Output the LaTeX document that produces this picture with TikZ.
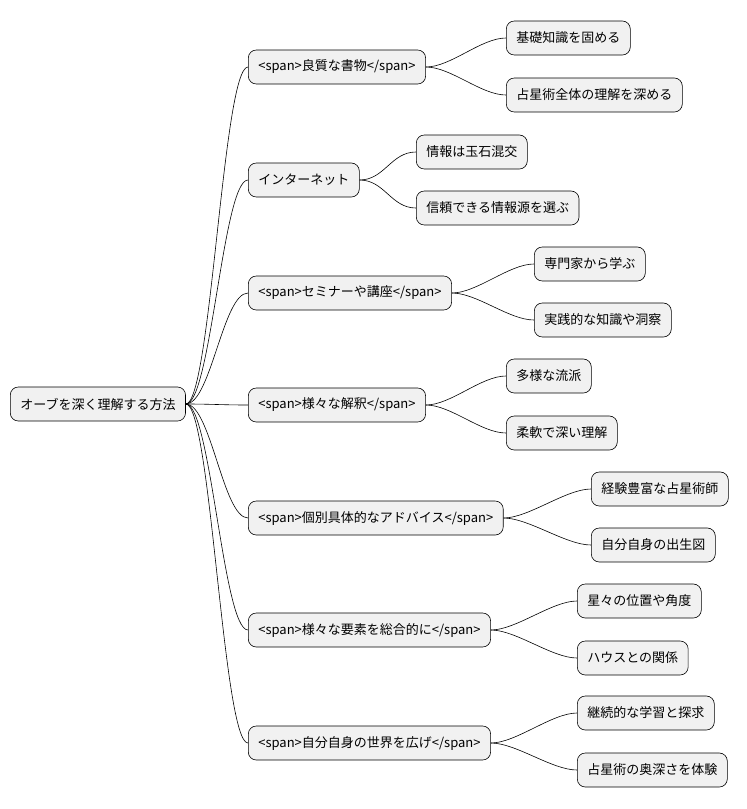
\documentclass[tikz,border=0pt]{standalone}
\usepackage{fontspec}
\setmainfont{Noto Sans CJK JP}
\begin{document}
\begin{tikzpicture}[x=1pt,y=-1pt,
  box/.style={draw=black,fill={rgb,255:red,241;green,241;blue,241},rounded corners=8pt,minimum height=34pt,inner xsep=10pt,anchor=west,font=\fontsize{13}{15}\selectfont,line width=0.6pt},
  e/.style={draw=black,line width=0.6pt}]
\useasboundingbox (0,0) rectangle (747,809);
\node[box] (r) at (10,404) {オーブを深く理解する方法};
\node[box] (a) at (248,67) {<span>良質な書物</span>};
\node[box] (b) at (248,180) {インターネット};
\node[box] (c) at (248,293) {<span>セミナーや講座</span>};
\node[box] (d) at (248,405) {<span>様々な解釈</span>};
\node[box] (f) at (248,518) {<span>個別具体的なアドバイス</span>};
\node[box] (g) at (248,630) {<span>様々な要素を総合的に</span>};
\node[box] (h) at (248,743) {<span>自分自身の世界を広げ</span>};
\node[box] (a1) at (506,38) {基礎知識を固める};
\node[box] (a2) at (506,95) {占星術全体の理解を深める};
\node[box] (b1) at (416,152) {情報は玉石混交};
\node[box] (b2) at (416,208) {信頼できる情報源を選ぶ};
\node[box] (c1) at (534,264) {専門家から学ぶ};
\node[box] (c2) at (534,320) {実践的な知識や洞察};
\node[box] (d1) at (506,376) {多様な流派};
\node[box] (d2) at (506,433) {柔軟で深い理解};
\node[box] (f1) at (591,489) {経験豊富な占星術師};
\node[box] (f2) at (591,545) {自分自身の出生図};
\node[box] (g1) at (577,601) {星々の位置や角度};
\node[box] (g2) at (577,658) {ハウスとの関係};
\node[box] (h1) at (577,713) {継続的な学習と探求};
\node[box] (h2) at (577,770) {占星術の奥深さを体験};
\foreach \p/\c in {r/a,r/b,r/c,r/d,r/f,r/g,r/h,a/a1,a/a2,b/b1,b/b2,c/c1,c/c2,d/d1,d/d2,f/f1,f/f2,g/g1,g/g2,h/h1,h/h2}
  \draw[e] (\p.east) .. controls +(25,0) and +(-25,0) .. (\c.west);
\end{tikzpicture}
\end{document}
